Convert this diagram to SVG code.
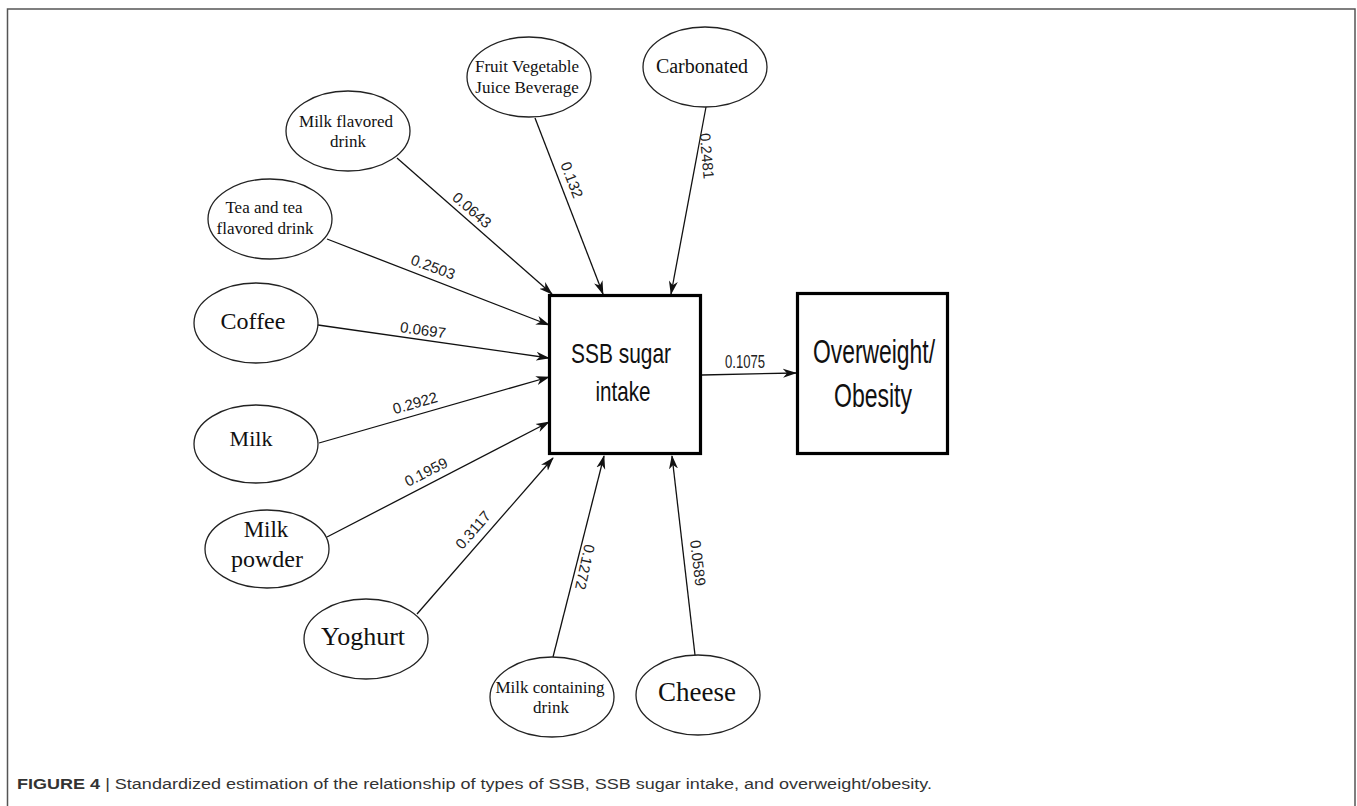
<svg xmlns="http://www.w3.org/2000/svg" width="1357" height="806" viewBox="0 0 1357 806">
<style>
.ell{fill:#fff;stroke:#222;stroke-width:1.3}
.box{fill:#fff;stroke:#000;stroke-width:3.2}
.t{font-family:"Liberation Serif","Times New Roman",serif;fill:#111;text-anchor:middle}
.s{font-size:17px}
.b{font-family:"Liberation Sans",Arial,sans-serif;fill:#111;text-anchor:middle}
.lbl{font-family:"Liberation Sans",Arial,sans-serif;font-size:15px;fill:#222;text-anchor:middle}
.edge{stroke:#111;stroke-width:1.3;fill:none;marker-end:url(#ah)}
</style>
<defs>
<marker id="ah" viewBox="0 0 14 10" refX="13" refY="5" markerWidth="14" markerHeight="10" markerUnits="userSpaceOnUse" orient="auto">
<path d="M0,0.5 L14,5 L0,9.5 L4,5 z" fill="#111"/>
</marker>
</defs>
<rect width="1357" height="806" fill="#fff"/>
<path d="M7.5,806 V9 H1355 V806" fill="none" stroke="#555" stroke-width="1.5"/>

<g id="connectors">
<line class="edge" x1="535" y1="118" x2="603" y2="294"/>
<line class="edge" x1="706" y1="107" x2="671" y2="294"/>
<line class="edge" x1="397" y1="158" x2="552" y2="294"/>
<line class="edge" x1="327" y1="239" x2="549" y2="325"/>
<line class="edge" x1="318" y1="325" x2="549" y2="358"/>
<line class="edge" x1="319" y1="443" x2="549" y2="377"/>
<line class="edge" x1="327" y1="537" x2="549" y2="422"/>
<line class="edge" x1="417" y1="614" x2="553" y2="458"/>
<line class="edge" x1="553" y1="657" x2="604" y2="456"/>
<line class="edge" x1="695" y1="655" x2="672" y2="456"/>
<line class="edge" x1="702" y1="375" x2="796" y2="373"/>
<text class="lbl" transform="translate(472,210) rotate(41)" dy="0.35em">0.0643</text>
<text class="lbl" transform="translate(572,180) rotate(69)" dy="0.35em">0.132</text>
<text class="lbl" transform="translate(707,156) rotate(85)" dy="0.35em">0.2481</text>
<text class="lbl" transform="translate(433,267) rotate(20)" dy="0.35em">0.2503</text>
<text class="lbl" transform="translate(423,330) rotate(8)" dy="0.35em">0.0697</text>
<text class="lbl" transform="translate(415,403) rotate(-16)" dy="0.35em">0.2922</text>
<text class="lbl" transform="translate(426,472) rotate(-27)" dy="0.35em">0.1959</text>
<text class="lbl" transform="translate(473,530) rotate(-49)" dy="0.35em">0.3117</text>
<text class="lbl" transform="translate(585,567) rotate(102)" dy="0.35em">0.1272</text>
<text class="lbl" transform="translate(698,563) rotate(83)" dy="0.35em">0.0589</text>
<text class="lbl" x="745" y="368" textLength="40" lengthAdjust="spacingAndGlyphs" style="font-size:18px">0.1075</text>
</g>

<g id="fruit">
<ellipse class="ell" cx="529" cy="77" rx="62" ry="40"/>
<text class="t s" x="527" y="72">Fruit Vegetable</text>
<text class="t s" x="527" y="93">Juice Beverage</text>
</g>
<g id="carbonated">
<ellipse class="ell" cx="705" cy="67" rx="62" ry="40"/>
<text class="t" x="702" y="73" style="font-size:20px">Carbonated</text>
</g>
<g id="milkflavored">
<ellipse class="ell" cx="348" cy="131" rx="62" ry="40"/>
<text class="t s" x="346" y="127">Milk flavored</text>
<text class="t s" x="348" y="147">drink</text>
</g>
<g id="tea">
<ellipse class="ell" cx="270" cy="219" rx="62" ry="40"/>
<text class="t s" x="264" y="213">Tea and tea</text>
<text class="t s" x="265" y="234">flavored drink</text>
</g>
<g id="coffee">
<ellipse class="ell" cx="256" cy="323" rx="62" ry="40"/>
<text class="t" x="253" y="329" style="font-size:24px">Coffee</text>
</g>
<g id="milk">
<ellipse class="ell" cx="256" cy="444" rx="62" ry="39"/>
<text class="t" x="251" y="446" style="font-size:22px">Milk</text>
</g>
<g id="milkpowder">
<ellipse class="ell" cx="267" cy="549" rx="62" ry="39"/>
<text class="t" x="266" y="537" style="font-size:23px">Milk</text>
<text class="t" x="267" y="567" style="font-size:24px">powder</text>
</g>
<g id="yoghurt">
<ellipse class="ell" cx="366" cy="639" rx="62" ry="40"/>
<text class="t" x="363" y="645" style="font-size:26px">Yoghurt</text>
</g>
<g id="milkcontaining">
<ellipse class="ell" cx="552" cy="697" rx="62" ry="40"/>
<text class="t s" x="550" y="693">Milk containing</text>
<text class="t s" x="551" y="713">drink</text>
</g>
<g id="cheese">
<ellipse class="ell" cx="698" cy="695" rx="62" ry="40"/>
<text class="t" x="697" y="701" style="font-size:27px">Cheese</text>
</g>

<g id="ssb">
<rect class="box" x="549.5" y="295.5" width="151" height="158"/>
<text class="b" x="621" y="363" textLength="100" lengthAdjust="spacingAndGlyphs" style="font-size:28px">SSB sugar</text>
<text class="b" x="623" y="401" textLength="55" lengthAdjust="spacingAndGlyphs" style="font-size:28px">intake</text>
</g>
<g id="obesity">
<rect class="box" x="797.5" y="293.5" width="150" height="160"/>
<text class="b" x="874" y="363" textLength="122" lengthAdjust="spacingAndGlyphs" style="font-size:34px">Overweight/</text>
<text class="b" x="873" y="407" textLength="78" lengthAdjust="spacingAndGlyphs" style="font-size:34px">Obesity</text>
</g>

<text x="17" y="789" font-family="Liberation Sans, Arial, sans-serif" font-size="14" fill="#333" textLength="915" lengthAdjust="spacingAndGlyphs"><tspan font-weight="bold">FIGURE 4</tspan><tspan> | Standardized estimation of the relationship of types of SSB, SSB sugar intake, and overweight/obesity.</tspan></text>
</svg>
